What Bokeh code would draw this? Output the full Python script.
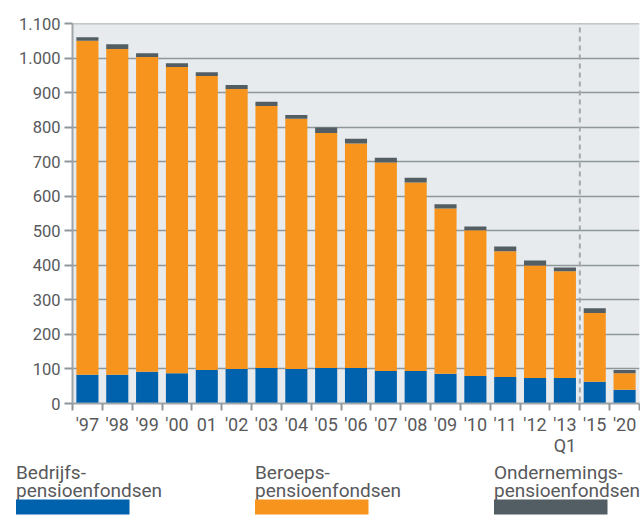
from bokeh.plotting import figure
from bokeh.models import ColumnDataSource, Range1d, FixedTicker, Arrow
from bokeh.layouts import column
from bokeh.core.properties import value
from bokeh.embed import file_html
from bokeh.resources import INLINE

# ---- data ----
year_labels = ["'97", "'98", "'99", "'00", "01", "'02", "'03", "'04", "'05", "'06",
               "'07", "'08", "'09", "'10", "'11", "'12", "'13\nQ1", "'15", "'20"]
bedrijfs = [83, 83, 92, 88, 97, 100, 103, 100, 103, 103, 94, 94, 86, 80, 77, 74, 74, 63, 40]
beroeps = [968, 944, 912, 887, 852, 811, 759, 725, 681, 650, 604, 546, 479, 422, 364, 326, 309, 199, 48]
ondernemings = [10, 14, 11, 11, 11, 12, 12, 11, 16, 14, 14, 14, 12, 11, 14, 14, 11, 14, 9]
y_ticks = [0, 100, 200, 300, 400, 500, 600, 700, 800, 900, 1000, 1100]
y_tick_labels = ["0", "100", "200", "300", "400", "500", "600", "700", "800", "900", "1.000", "1.100"]
legend_line1 = ["Bedrijfs-", "Beroeps-", "Ondernemings-"]
legend_line2 = ["pensioenfondsen", "pensioenfondsen", "pensioenfondsen"]
series_keys = ["bedrijfs", "beroeps", "ondernemings"]
colors = ["#0061ad", "#f7941d", "#525e63"]
split_after = 16  # dashed separator after '13 Q1

FONT = "Roboto"
TEXT_COLOR = "#58595b"
GRID_COLOR = "#8f979b"

# ---- geometry ----
W = 640
BL, BR, BT, BB = 72, 1, 23, 54
H1 = 404 + BB
H2 = 522 - H1
Y0, Y1 = 0, 1101
n = len(year_labels)
frame_h = H1 - BT - BB


def px_y(py):  # figure pixel y (from top) -> data y
    return Y0 + (H1 - BB - py) / frame_h * (Y1 - Y0)


x = list(range(n))
src = ColumnDataSource(dict(x=x, bedrijfs=bedrijfs, beroeps=beroeps, ondernemings=ondernemings))

p = figure(width=W, height=H1, output_backend="svg", toolbar_location=None,
           x_range=Range1d(-0.5, n - 0.5), y_range=Range1d(Y0, Y1),
           min_border_left=BL, min_border_right=BR, min_border_top=BT, min_border_bottom=BB)
p.frame_align = False
p.background_fill_color = "#e7ebee"
p.border_fill_color = "white"
p.outline_line_color = None

p.vbar_stack(series_keys, x="x", width=0.74, color=colors, source=src, line_width=0)

# dashed separator
p.add_layout(Arrow(end=None, x_start=split_after + 0.5, x_end=split_after + 0.5,
                   y_start=px_y(420), y_end=px_y(19), line_color="#a3a8ab", line_width=2,
                   line_dash="5 4"))

# x axis
xa = p.xaxis[0]
xa.ticker = FixedTicker(ticks=x, minor_ticks=[i - 0.5 for i in range(n + 1)])
xa.major_label_overrides = {i: lab for i, lab in enumerate(year_labels)}
xa.major_tick_out = 0
xa.major_tick_in = 0
xa.minor_tick_out = 7
xa.minor_tick_in = 0
xa.minor_tick_line_color = GRID_COLOR
xa.minor_tick_line_width = 2
xa.axis_line_color = "#9ea6a9"
xa.axis_line_width = 2
xa.major_label_text_font = FONT
xa.major_label_text_font_size = "18px"
xa.major_label_text_color = TEXT_COLOR
xa.major_label_text_line_height = 1.0
xa.major_label_standoff = 3

# y axis
ya = p.yaxis[0]
ya.ticker = FixedTicker(ticks=y_ticks)
ya.major_label_overrides = {v: lab for v, lab in zip(y_ticks, y_tick_labels)}
ya.major_tick_out = 8
ya.major_tick_in = 0
ya.major_tick_line_color = GRID_COLOR
ya.major_tick_line_width = 2
ya.minor_tick_out = 0
ya.minor_tick_in = 0
ya.axis_line_color = "#9ea6a9"
ya.axis_line_width = 2
ya.major_label_text_font = FONT
ya.major_label_text_font_size = "16.5px"
ya.major_label_text_color = TEXT_COLOR
ya.major_label_standoff = 4

p.xgrid.visible = False
p.ygrid.ticker = FixedTicker(ticks=y_ticks)
p.ygrid.grid_line_color = GRID_COLOR
p.ygrid.grid_line_width = 1.5

# ---- legend figure (pixel coordinates, y downwards) ----
lg = figure(width=W, height=H2, output_backend="svg", toolbar_location=None,
            x_range=Range1d(0, W), y_range=Range1d(H2, 0),
            min_border_left=0, min_border_right=0, min_border_top=0, min_border_bottom=0)
lg.frame_align = False
lg.axis.visible = False
lg.grid.visible = False
lg.outline_line_color = None
lg.background_fill_color = "white"
lg.border_fill_color = "white"

top = H1  # page y of the legend figure's top
legend_left = [15.5, 254.5, 493.5]
swatch_w = 113.5
lsrc = ColumnDataSource(dict(x=legend_left, x2=[v + swatch_w for v in legend_left],
                             l1=legend_line1, l2=legend_line2, c=colors))
lg.text(x="x", y=472 - top, text="l1", source=lsrc, text_font=value(FONT), text_font_size="19px",
        text_color=TEXT_COLOR, text_baseline="alphabetic")
lg.text(x="x", y=489.5 - top, text="l2", source=lsrc, text_font=value(FONT), text_font_size="19px",
        text_color=TEXT_COLOR, text_baseline="alphabetic")
lg.quad(left="x", right="x2", top=499 - top, bottom=514 - top, fill_color="c", line_width=0, source=lsrc)

layout = column(p, lg, spacing=0)
open("out.html", "w").write(file_html(layout, INLINE))
